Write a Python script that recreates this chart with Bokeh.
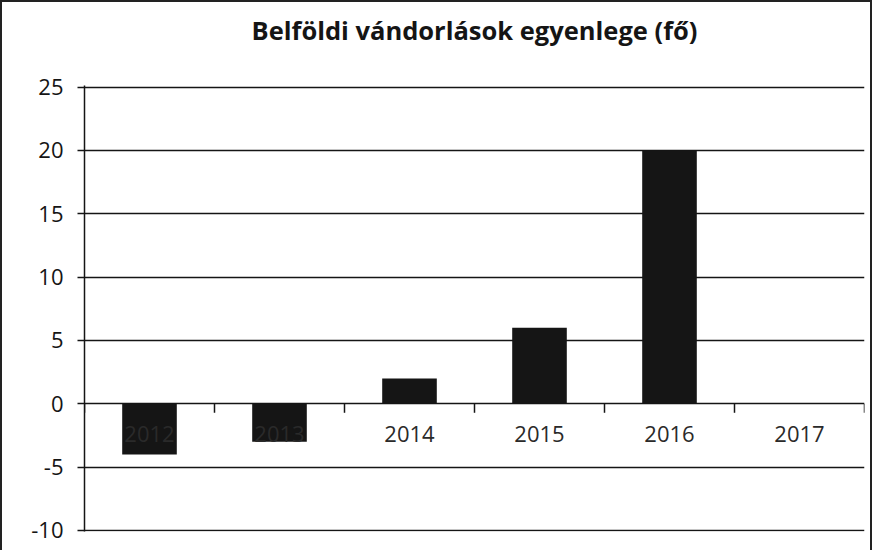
import math
from bokeh.plotting import figure
from bokeh.models import Range1d, LinearAxis, FixedTicker, Grid
from bokeh.core.properties import value
from bokeh.embed import file_html
from bokeh.resources import INLINE

# Data
years = ["2012", "2013", "2014", "2015", "2016", "2017"]
values = [-4, -3, 2, 6, 20, 0]
y_ticks = [-10, -5, 0, 5, 10, 15, 20, 25]
y_tick_labels = ["-10", "-5", "0", "5", "10", "15", "20", "25"]
title_text = "Belföldi vándorlások egyenlege (fő)"

idx = list(range(len(years)))
centers = [i + 0.5 for i in idx]
boundaries = list(range(len(years) + 1))
zeros = [0] * len(years)
zeros_b = [0] * len(boundaries)

FONT = "Open Sans"
INK = "#151515"

p = figure(
    width=872, height=550,
    x_range=Range1d(0, len(years)),
    y_range=Range1d(y_ticks[0] - 0.08, y_ticks[-1] + 0.12),
    x_axis_type=None, y_axis_type=None,
    output_backend="svg", toolbar_location=None,
    min_border_left=82, min_border_right=10, min_border_top=83, min_border_bottom=21,
    title=title_text + "\n",
)
p.outline_line_color = None
p.background_fill_color = "white"
p.border_fill_color = "white"
p.styles = {"border-top": "2px solid #222", "border-left": "2px solid #222",
            "border-right": "2px solid #222"}

p.title.text_font = FONT
p.title.text_font_style = "bold"
p.title.text_font_size = "25.5px"
p.title.align = "center"
p.title.vertical_align = "top"
p.title.text_color = INK
p.title.standoff = 6

# y axis and grid
yt = FixedTicker(ticks=y_ticks, minor_ticks=[])
yax = LinearAxis(ticker=yt)
yax.axis_line_color = INK
yax.axis_line_width = 1.5
yax.major_tick_line_color = INK
yax.major_tick_line_width = 1.5
yax.major_tick_out = 7
yax.major_tick_in = 0
yax.minor_tick_line_color = None
yax.major_label_standoff = 14
yax.major_label_text_font = FONT
yax.major_label_text_font_size = "22px"
yax.major_label_text_color = INK
yax.major_label_overrides = {t: s for t, s in zip(y_ticks, y_tick_labels)}
p.add_layout(yax, "left")
p.add_layout(Grid(dimension=1, ticker=yt, grid_line_color=INK, grid_line_width=1.6))

# bars
p.vbar(x=centers, top=values, bottom=0, width=0.42, fill_color=INK, line_color=None)

# ticks at category boundaries on the zero line
p.ray(x=boundaries, y=zeros_b, length=9, length_units="screen", angle=-math.pi / 2,
      line_color=INK, line_width=1.5)

# category labels
p.text(x=centers, y=zeros, text=years, text_align="center", text_baseline="middle",
       y_offset=30, text_font=value(FONT), text_font_size="22px", text_color="#2a2a2a")

open("out.html", "w").write(file_html(p, INLINE))
